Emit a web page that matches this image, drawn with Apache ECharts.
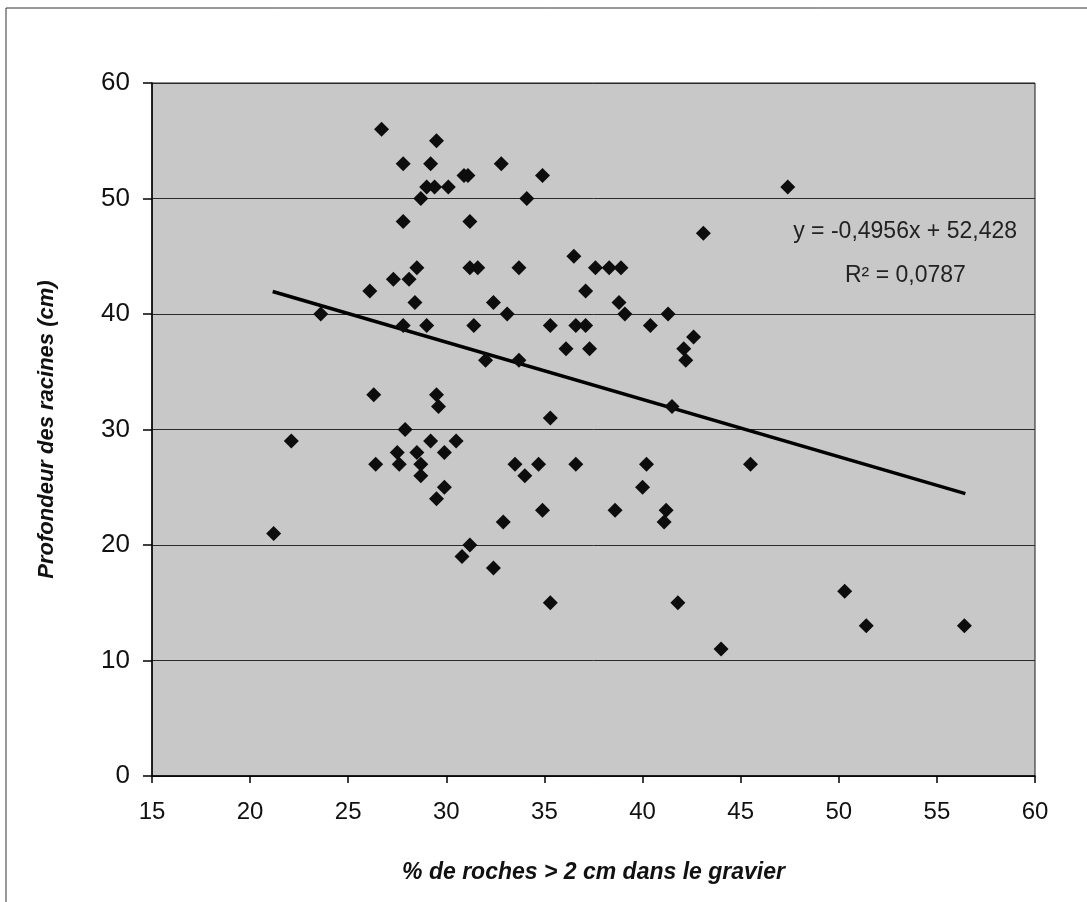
<!DOCTYPE html>
<html>
<head>
<meta charset="utf-8">
<title>Profondeur des racines</title>
<script src="https://cdn.jsdelivr.net/npm/echarts@6/dist/echarts.min.js"></script>
<style>
  html, body { margin: 0; padding: 0; background: #ffffff; }
  #chart { width: 1087px; height: 902px; }
</style>
</head>
<body>
<div id="chart"></div>
<script>
// % de roches > 2 cm (x) et profondeur des racines en cm (y)
const rochesPct = [
  21.2, 22.1, 23.6, 26.1, 26.3, 26.4, 26.7, 27.3, 27.5, 27.6,
  27.8, 27.8, 27.8, 27.9, 28.1, 28.4, 28.5, 28.5, 28.7, 28.7,
  28.7, 29.0, 29.0, 29.2, 29.2, 29.4, 29.5, 29.5, 29.5, 29.6,
  29.9, 29.9, 30.1, 30.5, 30.8, 30.9, 31.1, 31.2, 31.2, 31.6,
  31.4, 31.2, 32.0, 32.4, 32.4, 32.8, 32.9, 33.1, 33.5, 33.7,
  33.7, 34.0, 34.1, 34.7, 34.9, 34.9, 35.3, 35.3, 35.3, 36.1,
  36.5, 36.6, 36.6, 37.1, 37.1, 37.3, 37.6, 38.3, 38.6, 38.8,
  38.9, 39.1, 40.0, 40.2, 40.4, 41.1, 41.2, 41.3, 41.5, 41.8,
  42.1, 42.2, 42.6, 43.1, 44.0, 45.5, 47.4, 50.3, 51.4, 56.4
]
const profondeurCm = [
  21, 29, 40, 42, 33, 27, 56, 43, 28, 27,
  53, 48, 39, 30, 43, 41, 44, 28, 50, 27,
  26, 51, 39, 53, 29, 51, 55, 33, 24, 32,
  28, 25, 51, 29, 19, 52, 52, 48, 44, 44,
  39, 20, 36, 41, 18, 53, 22, 40, 27, 44,
  36, 26, 50, 27, 52, 23, 39, 31, 15, 37,
  45, 39, 27, 42, 39, 37, 44, 44, 23, 41,
  44, 40, 25, 27, 39, 22, 23, 40, 32, 15,
  37, 36, 38, 47, 11, 27, 51, 16, 13, 13
]

// droite de tendance linéaire affichée sur la figure
const slope = -0.4956
const intercept = 52.428
const r2 = 0.0787
const trendRange = [21.15, 56.45]

const xTicks = [15, 20, 25, 30, 35, 40, 45, 50, 55, 60]
const yTicks = [0, 10, 20, 30, 40, 50, 60]

const points = rochesPct.map((x, i) => [x, profondeurCm[i]])
const trendData = trendRange.map((x) => [x, slope * x + intercept])

function frNumber(value, digits) {
  return value.toFixed(digits).replace('.', ',')
}

const narrow = "'Liberation Sans Narrow', 'Arial Narrow', 'Liberation Sans', sans-serif"

const chart = echarts.init(document.getElementById('chart'))

chart.setOption({
  animation: false,
  backgroundColor: '#ffffff',
  grid: {
    left: 152,
    right: 52,
    top: 83,
    bottom: 126,
    show: true,
    backgroundColor: '#c8c8c8',
    borderColor: '#1a1a1a',
    borderWidth: 1
  },
  xAxis: {
    type: 'value',
    min: xTicks[0],
    max: xTicks[xTicks.length - 1],
    interval: 5,
    name: '% de roches > 2 cm dans le gravier',
    nameLocation: 'middle',
    nameGap: 85,
    nameTextStyle: {
      fontFamily: narrow,
      fontStyle: 'italic',
      fontWeight: 'bold',
      fontSize: 23,
      color: '#111'
    },
    axisLine: { show: true, onZero: false, lineStyle: { color: '#000', width: 1.5 } },
    axisTick: { show: true, inside: false, length: 7, lineStyle: { color: '#000', width: 1.5 } },
    axisLabel: {
      margin: 24,
      fontFamily: narrow,
      fontSize: 24,
      color: '#111'
    },
    splitLine: { show: false }
  },
  yAxis: {
    type: 'value',
    min: yTicks[0],
    max: yTicks[yTicks.length - 1],
    interval: 10,
    name: 'Profondeur des racines (cm)',
    nameLocation: 'middle',
    nameGap: 94,
    nameTextStyle: {
      fontFamily: narrow,
      fontStyle: 'italic',
      fontWeight: 'bold',
      fontSize: 22,
      color: '#111'
    },
    axisLine: { show: true, onZero: false, lineStyle: { color: '#000', width: 1.5 } },
    axisTick: { show: true, inside: false, length: 9, lineStyle: { color: '#000', width: 1.5 } },
    axisLabel: {
      margin: 22,
      fontFamily: narrow,
      fontSize: 26,
      color: '#111'
    },
    splitLine: { show: true, lineStyle: { color: '#2a2a2a', width: 1 } }
  },
  series: [
    {
      name: 'Mesures',
      type: 'scatter',
      symbol: 'diamond',
      symbolSize: 15,
      itemStyle: { color: '#0d0d0d', opacity: 1 },
      data: points,
      z: 3
    },
    {
      name: 'Tendance',
      type: 'line',
      showSymbol: false,
      lineStyle: { color: '#000', width: 3.5 },
      data: trendData,
      z: 2
    }
  ],
  graphic: [
    {
      type: 'line',
      shape: { x1: 6, y1: 8, x2: 1087, y2: 8 },
      style: { stroke: '#333', lineWidth: 1 }
    },
    {
      type: 'line',
      shape: { x1: 6, y1: 8, x2: 6, y2: 902 },
      style: { stroke: '#333', lineWidth: 1 }
    },
    {
      type: 'text',
      right: 70,
      top: 220,
      z: 10,
      style: {
        text: 'y = ' + frNumber(slope, 4) + 'x + ' + frNumber(intercept, 3),
        font: '23px ' + narrow,
        fill: '#222'
      }
    },
    {
      type: 'text',
      left: 845,
      top: 264,
      z: 10,
      style: {
        text: 'R² = ' + frNumber(r2, 4),
        font: '23px ' + narrow,
        fill: '#222'
      }
    }
  ]
})
</script>
</body>
</html>
